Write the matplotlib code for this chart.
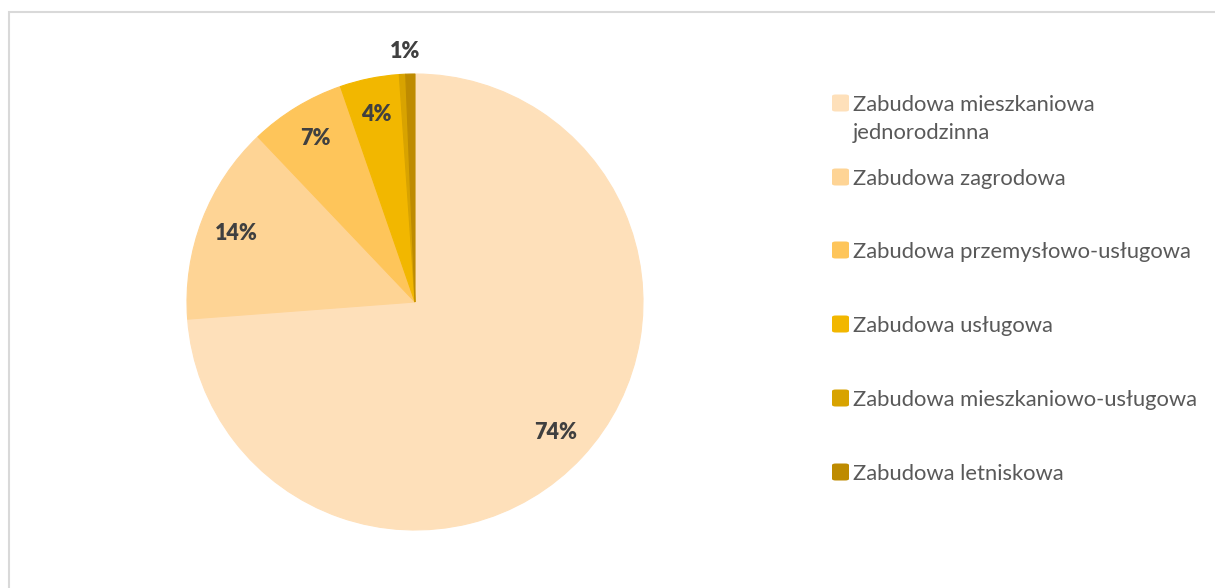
import numpy as np
import matplotlib
matplotlib.use("Agg")
import matplotlib.pyplot as plt
from matplotlib.patches import Rectangle, FancyBboxPatch

categories = [
    "Zabudowa mieszkaniowa\njednorodzinna",
    "Zabudowa zagrodowa",
    "Zabudowa przemysłowo-usługowa",
    "Zabudowa usługowa",
    "Zabudowa mieszkaniowo-usługowa",
    "Zabudowa letniskowa",
]
values = [73.8, 14.1, 6.8, 4.2, 0.45, 0.65]
colors = ["#FEE0BA", "#FED495", "#FEC55A", "#F2B700", "#D8A300", "#BE8B00"]

W, H = 1215, 588
fig = plt.figure(figsize=(W / 100, H / 100), dpi=100)
fig.patch.set_facecolor("white")

# chart-area border
fig.patches.append(Rectangle((8.5 / W, -0.05), 1.2, 1 - 11.5 / H + 0.05,
                             transform=fig.transFigure, fill=False,
                             edgecolor="#D9D9D9", linewidth=1.5))

cx, cy, R = 415, 302, 228
ax = fig.add_axes([(cx - R) / W, (H - cy - R) / H, 2 * R / W, 2 * R / H])


def fmt(p):
    return f"{p:.0f}%" if p >= 0.5 else ""


wedges, texts, autotexts = ax.pie(
    values, colors=colors, startangle=90, counterclock=False,
    autopct=fmt, pctdistance=0.84,
    textprops=dict(color="#404040", fontsize=15.5, fontweight="heavy",
                   family=["Lato", "DejaVu Sans"]),
)
for w, c in zip(wedges, colors):
    w.set_edgecolor(c)
    w.set_linewidth(0.8)

# move the small-slice label outside
small = wedges[4:]
ang = np.deg2rad((small[0].theta1 + small[-1].theta2) / 2)
autotexts[5].set_position((1.10 * np.cos(ang), 1.10 * np.sin(ang)))

ax.set_xlim(-1, 1)
ax.set_ylim(-1, 1)
ax.set_aspect("equal")
ax.axis("off")

# legend
ys = [103, 177, 250, 324, 398, 472]
for lab, c, y in zip(categories, colors, ys):
    fig.patches.append(FancyBboxPatch((832 / W, (H - y - 8.5) / H), 17 / W, 17 / H,
                                      boxstyle="round,pad=0,rounding_size=0.003",
                                      transform=fig.transFigure, facecolor=c,
                                      edgecolor="none"))
    lines = lab.split("\n")
    for i, ln in enumerate(lines):
        fig.text(853 / W, (H - (y + 8 + 28 * i)) / H, ln, ha="left", va="baseline",
                 fontsize=15.8, color="#595959", family=["Lato", "DejaVu Sans"],
                 transform=fig.transFigure)

fig.savefig("out.png", dpi=100, facecolor="white")
